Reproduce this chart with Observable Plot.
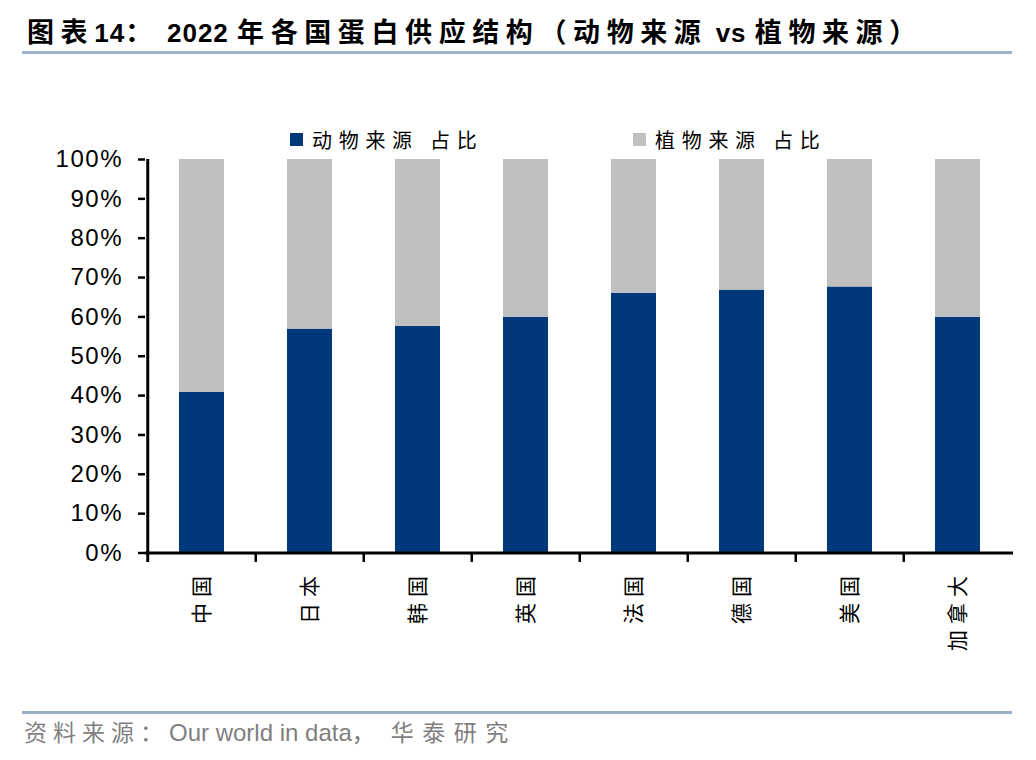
<!DOCTYPE html>
<html>
<head>
<meta charset="utf-8">
<script src="https://cdn.jsdelivr.net/npm/d3@7"></script>
<script src="https://cdn.jsdelivr.net/npm/@observablehq/plot@0.6"></script>
<style>
  html, body { margin: 0; padding: 0; background: #fff; }
  #page { position: relative; width: 1036px; height: 760px; overflow: hidden; font-family: "Liberation Sans", "Noto Sans CJK SC", sans-serif; }
  #title { position: relative; height: 58px; }
  #title .txt { position: absolute; left: 27px; top: 11px; font-size: 26px; font-weight: bold; color: #000; white-space: pre; font-family: "Liberation Sans", "Noto Sans CJK SC", sans-serif; }
  #title .txt .cjk { letter-spacing: 6.6px; font-size: 27px; }
  #title .txt .lat { letter-spacing: 1px; }
  #title .line { position: absolute; left: 22px; top: 51px; width: 990px; height: 3px; background: #9FB3CB; }
  #legend { position: relative; height: 92px; }
  .lg-item { position: absolute; top: 67px; height: 28px; display: flex; align-items: center; font-family: "Noto Sans CJK SC", sans-serif; font-size: 20px; letter-spacing: 6.7px; color: #000; white-space: pre; }
  .lg-sw { width: 13px; height: 13px; margin-right: 9px; }
  #footer { position: relative; height: 62px; }
  #footer .line { position: absolute; left: 22px; top: 13px; width: 990px; height: 3px; background: #9CAFC5; }
  #footer .txt { position: absolute; left: 24px; top: 16px; font-size: 24px; color: #7F7F7F; white-space: pre; font-family: "Liberation Sans", "Noto Sans CJK SC", sans-serif; }
  #footer .txt .cjk { letter-spacing: 6px; font-size: 23px; }
  #footer .txt .cjk:last-child { letter-spacing: 8.5px; }
  #footer .txt .lat { font-size: 24px; letter-spacing: 0px; }
  [aria-label="y-axis tick label"] text { letter-spacing: 1.5px; }
  [aria-label="x-axis tick label"] text { letter-spacing: 6px; font-family: "Noto Sans CJK SC", sans-serif; }
</style>
</head>
<body>
<div id="page">
  <div id="title"><div class="txt"></div><div class="line"></div></div>
  <div id="legend"></div>
  <div id="chart"></div>
  <div id="footer"><div class="line"></div><div class="txt"></div></div>
</div>
<script>
const titleText = "图表14： 2022 年各国蛋白供应结构（动物来源 vs 植物来源）";
const sourceParts = ["资料来源：", "Our world in data", "，", "华泰研究"];
const categories = ["中国", "日本", "韩国", "英国", "法国", "德国", "美国", "加拿大"];
const seriesNames = ["动物来源 占比", "植物来源 占比"];
const seriesColors = ["#00387A", "#BFBFBF"];
const animalShare = [40.8, 56.9, 57.6, 59.9, 66.0, 66.8, 67.6, 59.9];
const plantShare = [59.2, 43.1, 42.4, 40.1, 34.0, 33.2, 32.4, 40.1];
const yTicks = [0, 10, 20, 30, 40, 50, 60, 70, 80, 90, 100];

const cjkTest = /[\u3000-\u303f\u4e00-\u9fff\uff00-\uffef]/;
// split text into CJK / Latin runs so each can get its own spacing
function fillRuns(el, text) {
  const re = /[\u3000-\u303f\u4e00-\u9fff\uff00-\uffef]+|[^\u3000-\u303f\u4e00-\u9fff\uff00-\uffef]+/g;
  (text.match(re) || []).forEach(run => {
    const s = document.createElement("span");
    s.className = cjkTest.test(run) ? "cjk" : "lat";
    s.textContent = run;
    el.appendChild(s);
  });
}
fillRuns(document.querySelector("#title .txt"), titleText);
const footTxt = document.querySelector("#footer .txt");
sourceParts.forEach(p => {
  const s = document.createElement("span");
  s.className = cjkTest.test(p) ? "cjk" : "lat";
  s.textContent = p;
  if (p === "，") s.style.letterSpacing = "16px";
  footTxt.appendChild(s);
});

const legendPos = [290, 633];
const legend = document.getElementById("legend");
seriesNames.forEach((name, i) => {
  const item = document.createElement("div");
  item.className = "lg-item";
  item.style.left = legendPos[i] + "px";
  const sw = document.createElement("span");
  sw.className = "lg-sw";
  sw.style.background = seriesColors[i];
  const t = document.createElement("span");
  t.textContent = name;
  item.appendChild(sw);
  item.appendChild(t);
  legend.appendChild(item);
});

const rows = [];
categories.forEach((c, i) => rows.push({country: c, series: seriesNames[0], value: animalShare[i]}));
categories.forEach((c, i) => rows.push({country: c, series: seriesNames[1], value: plantShare[i]}));

const W = 1036, H = 548, mL = 145, mR = 23, mT = 9, mB = 145.5;
const step = (W - mL - mR) / categories.length;

const chart = Plot.plot({
  width: W,
  height: H,
  marginTop: mT,
  marginBottom: mB,
  marginLeft: mL,
  marginRight: mR,
  style: {overflow: "visible", background: "white", fontFamily: "Liberation Sans, Noto Sans CJK SC, sans-serif", color: "#000"},
  x: {domain: categories, paddingInner: 0.585, paddingOuter: 0.2925, axis: null},
  y: {domain: [0, 100], axis: null},
  color: {domain: seriesNames, range: seriesColors},
  marks: [
    Plot.barY(rows, {x: "country", y: "value", fill: "series", order: null}),
    Plot.ruleY([0], {stroke: "#000", strokeWidth: 3}),
    Plot.ruleX([categories[0]], {x: d => d, dx: -step / 2, y1: -2.4, y2: 100, stroke: "#000", strokeWidth: 3}),
    Plot.ruleX(categories.slice(1), {x: d => d, dx: -step / 2, y1: -2.4, y2: 0, stroke: "#000", strokeWidth: 2.5}),
    Plot.axisY({ticks: yTicks, tickSize: 7, tickPadding: 15.5, tickFormat: d => d + "%", fontSize: 24, strokeWidth: 2.5, stroke: "#000", label: null}),
    Plot.axisX({tickSize: 0, tickRotate: -90, tickPadding: 17, fontSize: 21, label: null})
  ]
});
document.getElementById("chart").appendChild(chart);
</script>
</body>
</html>
